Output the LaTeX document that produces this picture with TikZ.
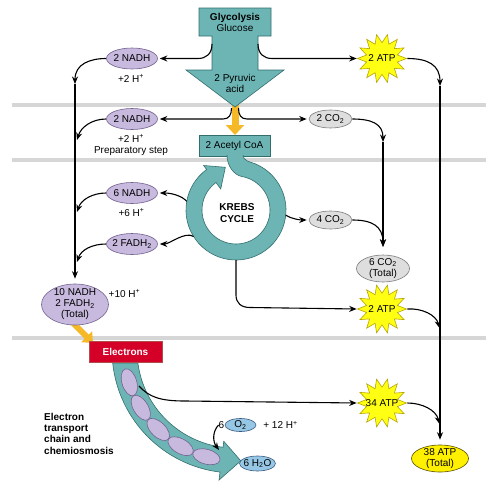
\documentclass[tikz,border=0pt]{standalone}
\usepackage{fontspec}
\setmainfont{Liberation Sans}
\usetikzlibrary{shapes.geometric,arrows.meta,calc}
\definecolor{tealf}{RGB}{109,181,180}
\definecolor{teald}{RGB}{50,110,110}
\definecolor{purf}{RGB}{200,186,222}
\definecolor{purd}{RGB}{115,98,145}
\definecolor{grayf}{RGB}{222,222,222}
\definecolor{grayd}{RGB}{125,125,125}
\definecolor{yelf}{RGB}{255,255,20}
\definecolor{yeld}{RGB}{185,165,0}
\definecolor{yelo}{RGB}{255,240,0}
\definecolor{yelod}{RGB}{90,80,0}
\definecolor{bluf}{RGB}{150,200,230}
\definecolor{blud}{RGB}{60,90,130}
\definecolor{redf}{RGB}{212,0,40}
\definecolor{orng}{RGB}{245,185,40}
\definecolor{bandc}{RGB}{214,214,214}
\tikzset{
  conn/.style={line width=1.1pt, -{Stealth[length=7.5pt,width=6pt]}},
  wire/.style={line width=1.1pt},
  txt/.style={inner sep=0pt, font=\fontsize{10}{11}\selectfont, align=center},
  pell/.style={ellipse, draw=purd, fill=purf, line width=0.6pt, inner sep=0pt, minimum width=51pt, minimum height=21pt},
  gell/.style={ellipse, draw=grayd, fill=grayf, line width=0.6pt, inner sep=0pt, minimum width=43pt, minimum height=18pt},
  bell/.style={ellipse, draw=blud, fill=bluf, line width=0.6pt, inner sep=0pt},
  yell/.style={ellipse, draw=yelod, fill=yelo, line width=0.6pt, inner sep=0pt},
  burst/.style={star, star points=14, star point ratio=1.55, minimum size=49pt, inner sep=0pt, shape border rotate=-12.857, draw=yeld, fill=yelf, line width=0.6pt},
  tealshape/.style={fill=tealf, draw=teald, line width=0.6pt},
  petal/.style={fill=purf, draw=purd, line width=0.6pt},
  bandline/.style={line width=4.5pt, draw=bandc},
}
\begin{document}
\begin{tikzpicture}[x=1pt,y=1pt]
\useasboundingbox (0,0) rectangle (496,-482);
\fill[white] (0,0) rectangle (496,-482);
% bands
\draw[bandline] (12,-105) -- (486,-105);
\draw[bandline] (12,-160) -- (486,-160);
\draw[bandline] (12,-338) -- (486,-338);

\coordinate (Kc) at (236,-210);
\coordinate (Ec) at (235,-350);

% orange arrows
\draw[line width=7pt, draw=orng, -{Triangle[length=10pt,width=18pt]}] (235,-104) -- (235,-135);
\draw[line width=6pt, draw=orng, -{Triangle[length=9pt,width=15pt]}] (71,-321) -- (93,-343);

% glycolysis
\draw[tealshape] (199,-8) -- (271,-8) -- (271,-36) -- (258,-36) -- (258,-70) -- (284,-70) -- (235,-107) -- (186,-70) -- (212,-70) -- (212,-36) -- (199,-36) -- cycle;
\node[txt] (glyt) at (235,-22.5) {\textbf{Glycolysis}\\Glucose};
\node[txt] (pyr) at (235,-83) {2 Pyruvic\\acid};
\coordinate (glyL) at (212,-44);
\coordinate (glyR) at (258,-44);

% acetyl CoA
\node[draw=teald, fill=tealf, line width=0.6pt, minimum width=71pt, minimum height=21pt, txt] (acoa) at (234.5,-145.5) {2 Acetyl CoA};

% Krebs ring
\draw[tealshape] (227,-155) .. controls (227,-166) and (234,-175) .. ($(Kc)+(80:34)$)
  arc[start angle=80, end angle=-234, radius=34]
  -- ($(Kc)+(126:26)$) -- ($(Kc)+(104:44)$) -- ($(Kc)+(126:55)$) -- ($(Kc)+(126:50)$)
  arc[start angle=126, end angle=427, radius=50]
  .. controls (250,-161.7) and (243,-161) .. (243,-155);
\node[txt, font=\fontsize{10}{11.5}\selectfont\bfseries] (krebs) at (237,-213) {KREBS\\CYCLE};

% Electron transport arrow
\draw[tealshape] ($(Ec)+(186.07:123)$) arc[start angle=186.07, end angle=263, radius=123]
  -- ($(Ec)+(263:131)$) -- ($(Ec)+(273:111)$) -- ($(Ec)+(263:92)$) -- ($(Ec)+(263:98)$)
  arc[start angle=263, end angle=187.6, radius=98] -- cycle;
\foreach \a in {197,211.5,226,240.5,255} {
  \draw[petal, shift={($(Ec)+(\a:110.5)$)}, rotate=\a+90] (0,0) ellipse[x radius=14, y radius=7.4];
}

% Electrons box
\node[fill=redf, draw=red!40!gray, line width=0.5pt, minimum width=73pt, minimum height=21pt, inner sep=0pt, text=white, font=\fontsize{10}{11}\selectfont\bfseries] (elec) at (125.5,-351.5) {Electrons};

% left column ellipses
\node[pell] (nadh1) at (132,-58.5) {};
\node[txt] (nadh1t) at (nadh1) {2 NADH};
\node[txt] (h1) at (131,-78.5) {+2 H\textsuperscript{+}};
\node[pell] (nadh2) at (132,-119) {};
\node[txt] (nadh2t) at (nadh2) {2 NADH};
\node[txt] (h2) at (131,-145) {+2 H\textsuperscript{+}\\Preparatory step};
\node[pell] (nadh3) at (132,-193) {};
\node[txt] (nadh3t) at (nadh3) {6 NADH};
\node[txt] (h3) at (131.5,-212.5) {+6 H\textsuperscript{+}};
\node[pell] (nadh4) at (132,-244) {};
\node[txt] (nadh4t) at (nadh4) {2 FADH\textsubscript{2}};
\node[pell, minimum width=67pt, minimum height=41pt] (tot) at (75,-304.5) {};
\node[txt] (tott) at (tot) {10 NADH\\2 FADH\textsubscript{2}\\(Total)};
\node[txt] (h10) at (124.5,-293.5) {+10 H\textsuperscript{+}};

% CO2 ellipses
\node[gell] (co2a) at (330.5,-119) {};
\node[txt] (co2at) at (co2a) {2 CO\textsubscript{2}};
\node[gell] (co2b) at (330.5,-220) {};
\node[txt] (co2bt) at (co2b) {4 CO\textsubscript{2}};
\node[gell, minimum width=53pt, minimum height=27pt] (co2t) at (383,-268.5) {};
\node[txt] (co2tt) at (co2t) {6 CO\textsubscript{2}\\(Total)};

% ATP
\node[burst] (atp1) at (382,-58.5) {};
\node[txt] (atp1t) at (atp1) {2 ATP};
\node[burst] (atp2) at (382,-309) {};
\node[txt] (atp2t) at (atp2) {2 ATP};
\node[burst] (atp34) at (382,-403) {};
\node[txt] (atp34t) at (atp34) {34 ATP};
\node[yell, minimum width=57pt, minimum height=27pt] (atp38) at (440,-458.5) {};
\node[txt] (atp38t) at (atp38) {38 ATP\\(Total)};

% O2 / H2O
\node[txt] (six) at (221.5,-425) {6};
\node[bell, minimum width=31pt, minimum height=13pt] (o2) at (240.5,-425) {};
\node[txt] (o2t) at (o2) {O\textsubscript{2}};
\node[txt] (h12) at (280.5,-425) {+ 12 H\textsuperscript{+}};
\node[bell, minimum width=36pt, minimum height=15pt] (h2o) at (257.5,-463.5) {};
\node[txt] (h2ot) at (h2o) {6 H\textsubscript{2}O};

% ETC label
\node[txt, align=left, anchor=west, font=\fontsize{10}{11.3}\selectfont\bfseries] (etc) at (44,-433.5) {Electron\\transport\\chain and\\chemiosmosis};

% junction coordinates
\coordinate (v1) at (75,-84);
\coordinate (v2) at (440,-86);
\coordinate (v3) at (383,-142);
\coordinate (v4) at (383,-247);
\coordinate (m1) at (77,-140);
\coordinate (m2) at (77,-212);
\coordinate (m3) at (77,-262);
\coordinate (r1) at (439.5,-328);
\coordinate (r2) at (439.5,-424);
\coordinate (oaL) at (231.5,-108);
\coordinate (oaR) at (238.5,-108);
\coordinate (kA) at ($(Kc)+(170:50)$);
\coordinate (kB) at ($(Kc)+(212:50)$);
\coordinate (kC) at ($(Kc)+(-6:50)$);
\coordinate (kD) at (236,-260);
\coordinate (eS) at (139,-386);
\coordinate (o2e) at (219,-450);

% connectors: glycolysis
\draw[conn, shorten >=2pt] (glyL) .. controls (212,-54) and (206,-58.5) .. (198,-58.5) -- (nadh1.east);
\draw[conn] (glyR) .. controls (258,-54) and (264,-58.5) .. (272,-58.5) -- (atp1.west);
\draw[conn] (nadh1.west) .. controls (90,-58.5) and (75,-64) .. (v1);
\draw[conn, shorten >=5pt] (v1) -- (tot.north);
\draw[conn] (atp1.east) .. controls (428,-58.5) and (440,-65) .. (v2);
\draw[conn, shorten >=5pt] (v2) -- (atp38.north);
% preparatory
\draw[conn, shorten >=2pt] (oaL) .. controls (231.5,-115) and (229,-119) .. (223,-119) -- (nadh2.east);
\draw[conn, shorten >=2pt] (oaR) .. controls (238.5,-115) and (241,-119) .. (247,-119) -- (co2a.west);
\draw[conn] (nadh2.west) .. controls (92,-119) and (81,-127) .. (m1);
\draw[conn] (co2a.east) .. controls (372,-119) and (383,-124) .. (v3);
\draw[conn, shorten >=8pt] (v3) -- (co2t.north);
% Krebs
\draw[conn, shorten >=2pt] (kA) .. controls (182,-196) and (172,-193) .. (nadh3.east);
\draw[conn] (nadh3.west) .. controls (92,-193) and (81,-200) .. (m2);
\draw[conn, shorten >=2pt] (kB) .. controls (185,-231) and (170,-244) .. (nadh4.east);
\draw[conn] (nadh4.west) .. controls (92,-244) and (81,-250) .. (m3);
\draw[conn, shorten >=2pt] (kC) .. controls (292,-219) and (300,-220) .. (co2b.west);
\draw[conn] (co2b.east) .. controls (372,-220) and (383,-226) .. (v4);
\draw[conn] (kD) -- (236,-295) .. controls (236,-303) and (241,-307.5) .. (250,-307.5) -- (atp2.west);
\draw[conn] (atp2.east) .. controls (422,-308) and (436,-315) .. (r1);
% ETC
\draw[conn] (eS) .. controls (149,-397) and (160,-401) .. (185,-401) -- (atp34.west);
\draw[conn] (atp34.east) .. controls (422,-403) and (436,-410) .. (r2);
\draw[conn] (six.west) .. controls (212,-432) and (213,-442) .. (o2e);
\end{tikzpicture}
\end{document}
